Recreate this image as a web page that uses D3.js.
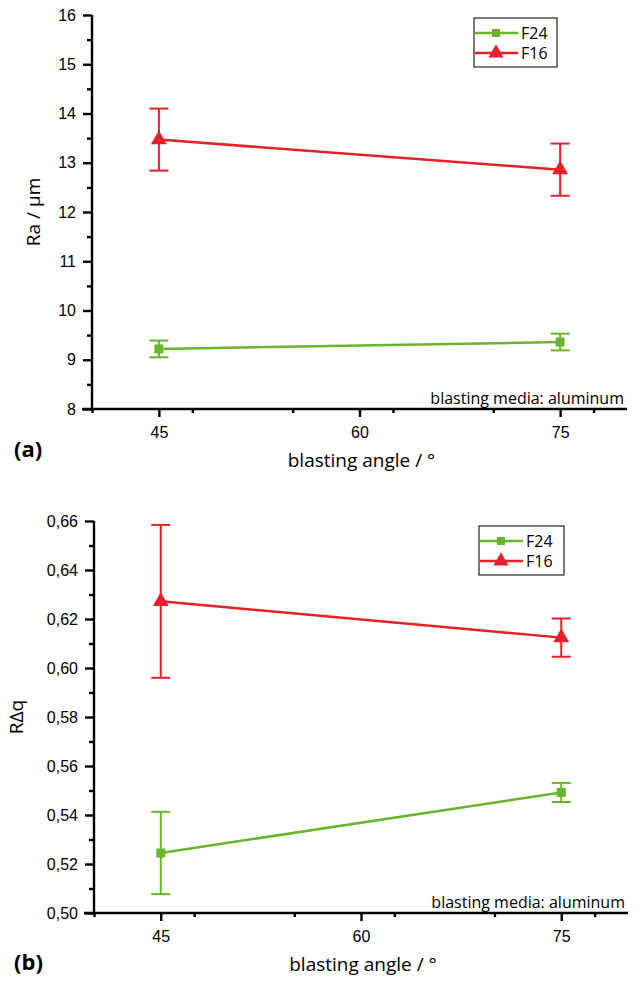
<!DOCTYPE html>
<html>
<head>
<meta charset="utf-8">
<script src="https://cdn.jsdelivr.net/npm/d3@7"></script>
<style>
  body { margin: 0; background: #fff; }
  svg { display: block; font-family: "Open Sans", sans-serif; }
  .axis path, .axis line { stroke: #000; stroke-width: 2.4px; }
  .axis .minor line { stroke-width: 2px; }
  .axis text { font-size: 16px; fill: #000; }
</style>
</head>
<body>
<svg id="chart" width="640" height="981"></svg>
<script>
// blasting angle (°)
const angles = [45, 75];
const xTicks = [45, 60, 75];
const seriesNames = ['F24', 'F16'];
const seriesColors = ['#6ab42d', '#e5202b'];

// (a) Ra / µm
const raF24 = [9.22, 9.36];
const raF24Err = [0.17, 0.17];
const raF16 = [13.47, 12.86];
const raF16Err = [0.63, 0.53];
const raTicks = [8, 9, 10, 11, 12, 13, 14, 15, 16];

// (b) RΔq
const rdqF24 = [0.5245, 0.5492];
const rdqF24Err = [0.0168, 0.0039];
const rdqF16 = [0.6272, 0.6124];
const rdqF16Err = [0.0312, 0.0078];
const rdqTicks = [0.50, 0.52, 0.54, 0.56, 0.58, 0.60, 0.62, 0.64, 0.66];

const svg = d3.select('#chart');

function panel(opt) {
  const g = svg.append('g');
  const x = d3.scaleLinear().domain([40, 80]).range([opt.left, opt.right]);
  const y = d3.scaleLinear().domain(opt.yDomain).range([opt.bottom, opt.top]);

  // minor ticks
  const xMinor = d3.range(40, 80.01, 7.5).filter(v => xTicks.indexOf(v) < 0);
  g.append('g').attr('class', 'axis minor')
    .attr('transform', `translate(0,${opt.bottom})`)
    .call(d3.axisBottom(x).tickValues(xMinor).tickSize(4).tickFormat(''))
    .call(a => a.select('.domain').remove());
  const step = opt.yTicks[1] - opt.yTicks[0];
  const yMinor = opt.yTicks.slice(0, -1).map(v => v + step / 2);
  g.append('g').attr('class', 'axis minor')
    .attr('transform', `translate(${opt.left},0)`)
    .call(d3.axisLeft(y).tickValues(yMinor).tickSize(5).tickFormat(''))
    .call(a => a.select('.domain').remove());

  // major axes
  g.append('g').attr('class', 'axis')
    .attr('transform', `translate(0,${opt.bottom})`)
    .call(d3.axisBottom(x).tickValues(xTicks).tickSize(8).tickSizeOuter(0).tickPadding(10))
    .call(a => a.select('.domain').attr('d', `M${opt.left - 10},0H${opt.right}`));
  g.append('g').attr('class', 'axis')
    .attr('transform', `translate(${opt.left},0)`)
    .call(d3.axisLeft(y).tickValues(opt.yTicks).tickSize(9).tickSizeOuter(0).tickPadding(7).tickFormat(opt.fmt))
    .call(a => a.select('.domain').attr('d', `M0,${opt.top}V${opt.bottom}`));

  // titles
  g.append('text')
    .attr('x', (opt.left + opt.right) / 2 + 2).attr('y', opt.bottom + 58)
    .attr('text-anchor', 'middle').attr('font-size', 19)
    .text('blasting angle / °');
  g.append('text')
    .attr('transform', `translate(${opt.yTitleX},${(opt.top + opt.bottom) / 2}) rotate(-90)`)
    .attr('text-anchor', 'middle').attr('font-size', 19)
    .text(opt.yTitle);
  g.append('text')
    .attr('x', 14).attr('y', opt.bottom + opt.tagDy)
    .attr('font-size', 22).attr('font-weight', 'bold')
    .text(opt.tag);
  g.append('text')
    .attr('x', opt.right - 3).attr('y', opt.bottom - 5)
    .attr('text-anchor', 'end').attr('font-size', 16)
    .text('blasting media: aluminum');

  // series
  opt.series.forEach((s, i) => {
    const c = seriesColors[i];
    const pts = angles.map((a, j) => ({ a: a, v: s.vals[j], e: s.errs[j] }));
    const line = d3.line().x(d => x(d.a)).y(d => y(d.v));
    g.append('path').datum(pts)
      .attr('d', line).attr('fill', 'none').attr('stroke', c).attr('stroke-width', 2.5);
    const eb = g.append('g').selectAll('g').data(pts).join('g')
      .attr('stroke', c).attr('stroke-width', 2);
    eb.append('line')
      .attr('x1', d => x(d.a)).attr('x2', d => x(d.a))
      .attr('y1', d => y(d.v - d.e)).attr('y2', d => y(d.v + d.e));
    [-1, 1].forEach(sg => {
      eb.append('line')
        .attr('x1', d => x(d.a) - 9.5).attr('x2', d => x(d.a) + 9.5)
        .attr('y1', d => y(d.v + sg * d.e)).attr('y2', d => y(d.v + sg * d.e));
    });
    g.append('g').selectAll('path').data(pts).join('path')
      .attr('transform', d => `translate(${x(d.a)},${y(d.v)})`)
      .attr('d', i === 0 ? d3.symbol(d3.symbolSquare, 80)() : d3.symbol(d3.symbolTriangle, 110)())
      .attr('fill', c);
  });

  // legend
  const lg = g.append('g').attr('transform', `translate(${opt.legend[0]},${opt.legend[1]})`);
  lg.append('rect').attr('width', opt.legend[2]).attr('height', 49)
    .attr('fill', '#fff').attr('stroke', '#333').attr('stroke-width', 1.3);
  seriesNames.forEach((n, i) => {
    const ly = 15 + i * 20;
    lg.append('line').attr('x1', 1).attr('x2', 44).attr('y1', ly).attr('y2', ly)
      .attr('stroke', seriesColors[i]).attr('stroke-width', 2.5);
    lg.append('path').attr('transform', `translate(22,${ly})`)
      .attr('d', i === 0 ? d3.symbol(d3.symbolSquare, 64)() : d3.symbol(d3.symbolTriangle, 100)())
      .attr('fill', seriesColors[i]);
    lg.append('text').attr('x', 47).attr('y', ly + 5.5).attr('font-size', 16).text(n);
  });
}

panel({
  left: 92, right: 627, top: 15, bottom: 409,
  yDomain: [8, 16], yTicks: raTicks, fmt: d3.format('d'),
  yTitleX: 40, yTitle: 'Ra / µm', tag: '(a)', tagDy: 48,
  legend: [474, 18, 83],
  series: [{ vals: raF24, errs: raF24Err }, { vals: raF16, errs: raF16Err }]
});

panel({
  left: 94, right: 628, top: 521, bottom: 913,
  yDomain: [0.50, 0.66], yTicks: rdqTicks, fmt: v => d3.format('.2f')(v).replace('.', ','),
  yTitleX: 23, yTitle: 'RΔq', tag: '(b)', tagDy: 57,
  legend: [479, 526, 85],
  series: [{ vals: rdqF24, errs: rdqF24Err }, { vals: rdqF16, errs: rdqF16Err }]
});
</script>
</body>
</html>
